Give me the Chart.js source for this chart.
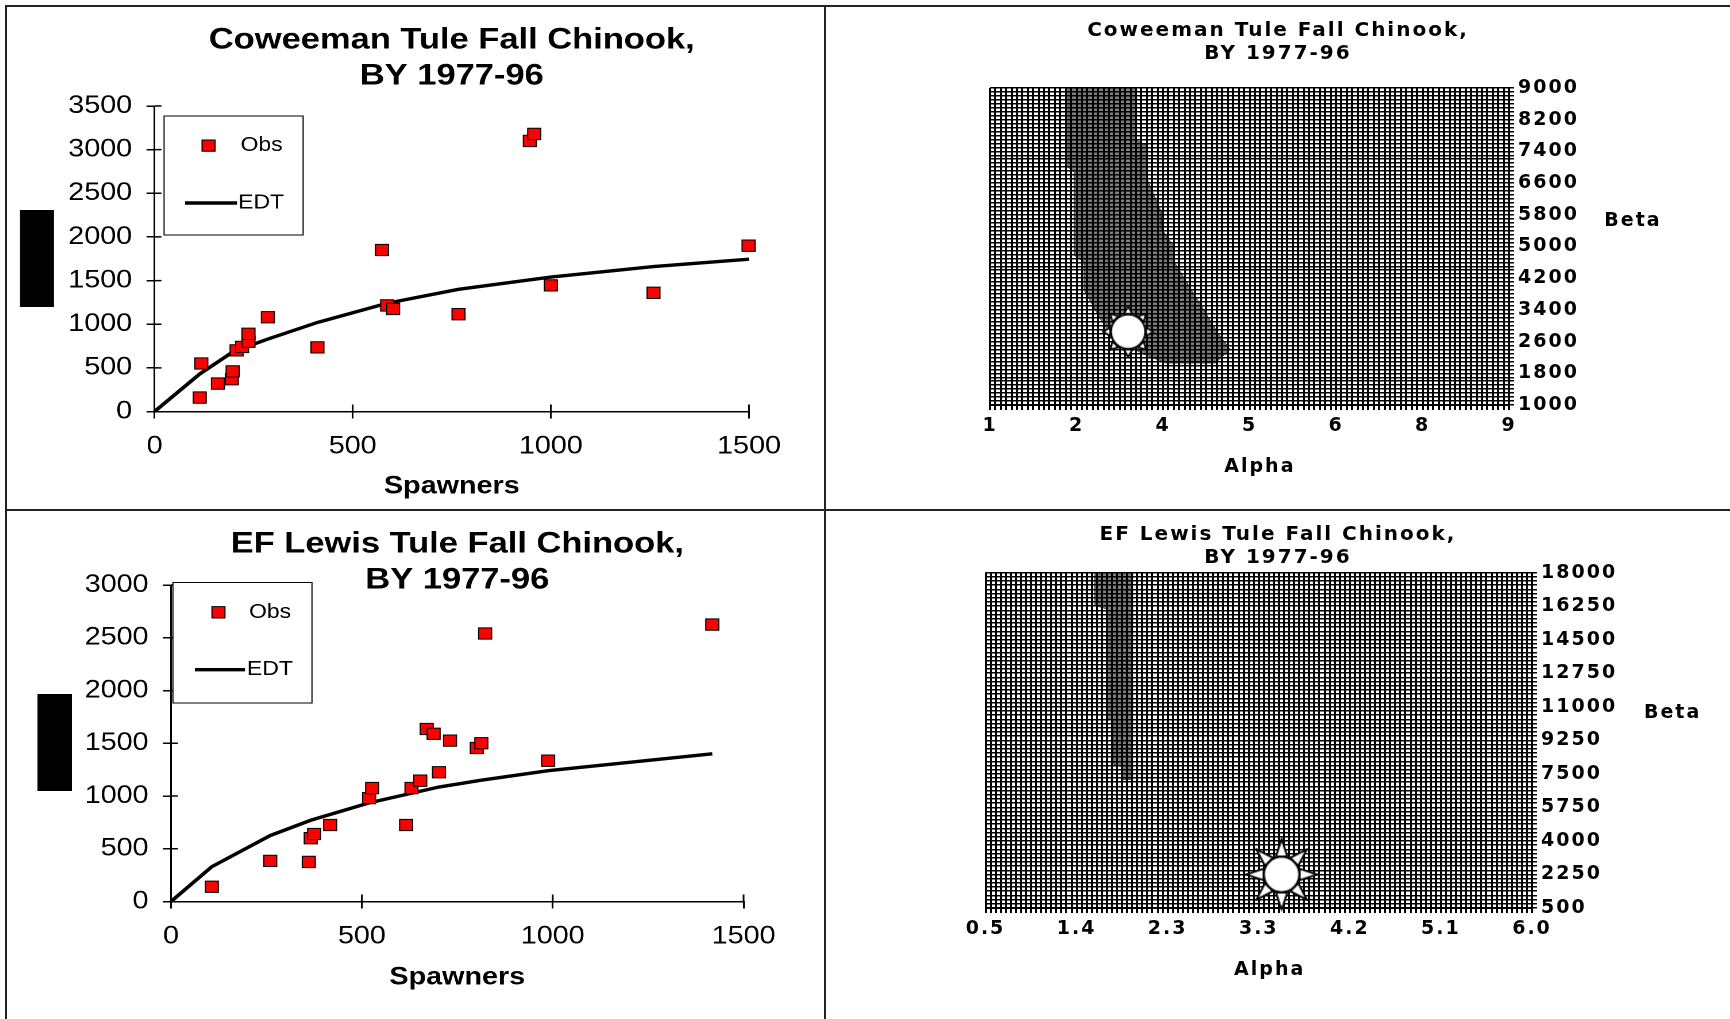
<!DOCTYPE html>
<html lang="en">
<head>
<meta charset="UTF-8">
<title>Coweeman and EF Lewis Tule Fall Chinook, BY 1977-96</title>
<script src="https://cdn.jsdelivr.net/npm/chart.js"></script>
<style>
  body {
    margin: 0;
    width: 1730px;
    height: 1019px;
    overflow: hidden;
    position: relative;
    background: #fff;
  }
  .rule { position: absolute; background: #222; }
  .panel { position: absolute; transform-origin: 0 0; }
</style>
</head>
<body>

<div class="rule" style="left:5px;top:5px;width:1725px;height:2px"></div>
<div class="rule" style="left:5px;top:5px;width:2px;height:1014px"></div>
<div class="rule" style="left:824px;top:5px;width:2px;height:1014px"></div>
<div class="rule" style="left:5px;top:509px;width:1725px;height:2px"></div>

<div class="panel" style="left:7px;top:7px;width:711px;height:502px;transform:scaleX(1.1491)"><canvas id="cowSR"></canvas></div>
<div class="panel" style="left:826px;top:7px;width:904px;height:502px"><canvas id="cowSurf"></canvas></div>
<div class="panel" style="left:7px;top:511px;width:711px;height:508px;transform:scaleX(1.1491)"><canvas id="efSR"></canvas></div>
<div class="panel" style="left:826px;top:511px;width:904px;height:508px"><canvas id="efSurf"></canvas></div>

<script>
// ---- Coweeman spawner / recruit ----
const cowSpawners = [114, 118, 160, 195, 197, 207, 221, 237, 237, 286, 411, 574, 587, 602, 767, 947, 958, 1000, 1259, 1499];
const cowRecruits = [160, 550, 320, 370, 460, 700, 740, 800, 890, 1080, 735, 1850, 1215, 1175, 1115, 3100, 3180, 1445, 1360, 1900];
const cowEdtSpawners = [0, 114, 200, 286, 411, 587, 767, 1000, 1259, 1500];
const cowEdtRecruits = [0, 430, 690, 830, 1020, 1240, 1400, 1540, 1660, 1745];
const cowRecruitTicks = [0, 500, 1000, 1500, 2000, 2500, 3000, 3500];

// ---- EF Lewis spawner / recruit ----
const efSpawners = [107, 260, 361, 366, 375, 417, 519, 527, 616, 630, 653, 670, 688, 702, 731, 801, 813, 823, 988, 1418];
const efRecruits = [140, 385, 375, 600, 640, 725, 980, 1075, 725, 1075, 1145, 1635, 1590, 1225, 1525, 1455, 1500, 2540, 1335, 2625];
const efEdtSpawners = [0, 107, 260, 366, 519, 702, 813, 988, 1418];
const efEdtRecruits = [0, 330, 625, 770, 935, 1085, 1150, 1240, 1400];
const efRecruitTicks = [0, 500, 1000, 1500, 2000, 2500, 3000];

const spawnerTicks = [0, 500, 1000, 1500];

// ---- Coweeman alpha / beta surface ----
const cowAlphaLabels = ['1', '2', '4', '5', '6', '8', '9'];
const cowBetaLabels = ['1000', '1800', '2600', '3400', '4200', '5000', '5800', '6600', '7400', '8200', '9000'];
const cowShadeAlpha = [2.20, 3.25, 3.25, 3.42, 3.42, 3.64, 3.64, 3.82, 3.84, 4.51, 4.70, 4.47, 3.72, 3.33, 2.85, 2.70, 2.45, 2.45, 2.30, 2.30, 2.20, 2.20];
const cowShadeBeta = [9000, 9000, 7680, 7550, 6700, 5870, 5450, 5030, 4610, 2820, 2400, 2060, 2060, 2310, 2800, 3180, 3900, 4610, 4780, 6880, 7000, 9000];
const cowBestAlpha = [3.13];
const cowBestBeta = [2850];

// ---- EF Lewis alpha / beta surface ----
const efAlphaLabels = ['0.5', '1.4', '2.3', '3.3', '4.2', '5.1', '6.0'];
const efBetaLabels = ['500', '2250', '4000', '5750', '7500', '9250', '11000', '12750', '14500', '16250', '18000'];
const efShadeAlpha = [1.60, 1.98, 1.98, 1.87, 1.87, 1.79, 1.79, 1.72, 1.72, 1.60, 1.60];
const efShadeBeta = [18000, 18000, 7200, 7200, 7900, 8000, 10300, 10400, 16100, 16300, 18000];
const efBestAlpha = [3.48];
const efBestBeta = [2250];

const FONT = "'Liberation Sans', Arial, sans-serif";
const WIDE = "'DejaVu Sans', Verdana, sans-serif";
Chart.defaults.font.family = FONT;
Chart.defaults.color = '#000';

const pairs = (xs, ys) => xs.map((x, i) => ({ x: x, y: ys[i] }));

// black bar standing where the y title was
const yBar = {
  id: 'yBar',
  beforeDraw(chart, args, o) {
    if (!o.w) return;
    chart.ctx.save();
    chart.ctx.fillStyle = '#000';
    chart.ctx.fillRect(o.x, o.y, o.w, o.h);
    chart.ctx.restore();
  }
};

// tick marks crossing into the plot
const innerTicks = {
  id: 'innerTicks',
  afterDraw(chart, args, o) {
    if (!o.len) return;
    const { ctx } = chart;
    const xs = chart.scales.x, ys = chart.scales.y;
    ctx.save();
    ctx.strokeStyle = '#000';
    ctx.lineWidth = 1.5;
    ctx.beginPath();
    xs.ticks.forEach((t, i) => {
      if (i === 0) return;
      const px = xs.getPixelForTick(i);
      ctx.moveTo(px, xs.top);
      ctx.lineTo(px, xs.top - o.len);
    });
    ys.ticks.forEach((t, i) => {
      if (i === 0) return;
      const py = ys.getPixelForTick(i);
      ctx.moveTo(ys.right, py);
      ctx.lineTo(ys.right + o.lenX, py);
    });
    ctx.stroke();
    ctx.restore();
  }
};

// boxed legend inside the plot
const boxLegend = {
  id: 'boxLegend',
  afterDraw(chart, args, o) {
    if (!o.box) return;
    const { ctx, chartArea: a } = chart;
    const [bx, by, bw, bh] = o.box;
    ctx.save();
    ctx.fillStyle = '#fff';
    ctx.fillRect(a.left + bx, a.top + by, bw, bh);
    ctx.strokeStyle = '#000';
    ctx.lineWidth = 1;
    ctx.strokeRect(a.left + bx, a.top + by, bw, bh);
    ctx.font = '20px ' + FONT;
    ctx.textBaseline = 'middle';
    o.rows.forEach((r, i) => {
      const ds = chart.data.datasets[i];
      const x = a.left + r.x, y = a.top + r.y;
      if (ds.type === 'line') {
        ctx.strokeStyle = ds.borderColor;
        ctx.lineWidth = ds.borderWidth;
        ctx.beginPath();
        ctx.moveTo(x - r.half, y);
        ctx.lineTo(x + r.half, y);
        ctx.stroke();
      } else {
        ctx.fillStyle = ds.backgroundColor;
        ctx.strokeStyle = ds.borderColor;
        ctx.lineWidth = ds.borderWidth;
        Chart.helpers.drawPoint(ctx, { pointStyle: ds.pointStyle, radius: ds.pointRadius, borderWidth: ds.borderWidth }, x, y);
      }
      ctx.fillStyle = '#000';
      ctx.fillText(ds.label, a.left + r.tx, y);
    });
    ctx.restore();
  }
};

// wide lettering, horizontal axis names and the best-fit marker on top of the grid
const surfaceExtras = {
  id: 'surfaceExtras',
  beforeDraw(chart, args, o) {
    if (o.spacing) chart.ctx.letterSpacing = o.spacing;
  },
  afterDraw(chart, args, o) {
    if (!o.alpha) return;
    const { ctx, chartArea: a } = chart;
    chart.getDatasetMeta(o.topIndex).data.forEach(p => p.draw(ctx, a));
    ctx.save();
    ctx.font = 'bold 19px ' + WIDE;
    ctx.fillStyle = '#000';
    ctx.textAlign = 'center';
    ctx.textBaseline = 'middle';
    ctx.fillText(o.alpha, a.left + a.width * 0.52, a.bottom + 62.5);
    ctx.fillText(o.beta, a.right + o.betaDx, a.top + a.height * 0.42);
    ctx.restore();
  }
};

function sunImage(rc, ro, halfBase) {
  const size = Math.ceil(2 * ro + 6);
  const c = document.createElement('canvas');
  c.width = size;
  c.height = size;
  const g = c.getContext('2d');
  g.translate(size / 2, size / 2);
  g.lineWidth = 1.6;
  g.strokeStyle = '#000';
  g.fillStyle = '#fff';
  const rb = rc + 1.5;
  for (let k = 0; k < 8; k++) {
    const t = k * Math.PI / 4 - Math.PI / 2;
    const half = halfBase / rb;
    g.beginPath();
    g.moveTo(ro * Math.cos(t), ro * Math.sin(t));
    g.lineTo(rb * Math.cos(t + half), rb * Math.sin(t + half));
    g.lineTo(rb * Math.cos(t - half), rb * Math.sin(t - half));
    g.closePath();
    g.fill();
    g.stroke();
  }
  g.beginPath();
  g.arc(0, 0, rc, 0, Math.PI * 2);
  g.fill();
  g.stroke();
  return c;
}

function gridTicks(min, max, n) {
  const out = [];
  for (let i = 0; i <= n; i++) out.push({ value: min + (max - min) * i / n });
  return out;
}

function srChart(id, c) {
  return new Chart(document.getElementById(id), {
    type: 'scatter',
    data: {
      datasets: [
        {
          label: 'Obs',
          data: pairs(c.sp, c.rec),
          pointStyle: 'rect',
          pointRadius: 8,
          backgroundColor: '#ff0000',
          borderColor: '#000',
          borderWidth: 1,
          clip: false
        },
        {
          type: 'line',
          label: 'EDT',
          data: pairs(c.edtSp, c.edtRec),
          borderColor: '#000',
          borderWidth: 3.4,
          pointRadius: 0,
          tension: 0,
          fill: false,
          clip: false
        }
      ]
    },
    options: {
      responsive: true,
      maintainAspectRatio: false,
      devicePixelRatio: 2,
      animation: false,
      events: [],
      layout: { padding: { left: 0, right: c.padRight, top: 0, bottom: 0 } },
      scales: {
        x: {
          type: 'linear',
          min: spawnerTicks[0],
          max: spawnerTicks[spawnerTicks.length - 1],
          afterBuildTicks: s => { s.ticks = spawnerTicks.map(v => ({ value: v })); },
          afterFit: s => { s.height = c.xAxisH; },
          grid: { drawOnChartArea: false, color: '#000', lineWidth: 1.5, tickLength: 7 },
          border: { color: '#000', width: 1.5 },
          ticks: { font: { size: 25 }, padding: 13, maxRotation: 0, autoSkip: false, callback: v => String(v) },
          title: { display: true, text: 'Spawners', font: { size: 25, weight: 'bold' }, padding: { top: 0, bottom: c.xTitleBottom } }
        },
        y: {
          type: 'linear',
          min: c.yTicks[0],
          max: c.yTicks[c.yTicks.length - 1],
          afterBuildTicks: s => { s.ticks = c.yTicks.map(v => ({ value: v })); },
          afterFit: s => { s.width = c.yAxisW; },
          grid: { drawOnChartArea: false, color: '#000', lineWidth: 1.5, tickLength: 7 },
          border: { color: '#000', width: 1.5 },
          ticks: { font: { size: 25 }, padding: 12.5, autoSkip: false, callback: v => String(v) }
        }
      },
      plugins: {
        legend: { display: false },
        tooltip: { enabled: false },
        title: {
          display: true,
          fullSize: false,
          text: c.title,
          color: '#000',
          font: { size: 30, weight: 'bold', lineHeight: 1.2 },
          padding: { top: c.titleTop, bottom: c.titleBottom }
        },
        yBar: c.bar,
        innerTicks: { len: 7, lenX: 6 },
        boxLegend: c.legend
      }
    },
    plugins: [yBar, innerTicks, boxLegend]
  });
}

function surfaceChart(id, c) {
  const aMin = parseFloat(c.alphaLabels[0]);
  const aMax = parseFloat(c.alphaLabels[c.alphaLabels.length - 1]);
  const bMin = parseFloat(c.betaLabels[0]);
  const bMax = parseFloat(c.betaLabels[c.betaLabels.length - 1]);
  const nA = (c.alphaLabels.length - 1) * c.alphaSub;
  const nB = (c.betaLabels.length - 1) * c.betaSub;
  const tickFont = { family: WIDE, size: 19, weight: 'bold' };
  return new Chart(document.getElementById(id), {
    type: 'scatter',
    data: {
      datasets: [
        {
          type: 'line',
          label: 'region',
          xAxisID: 'x',
          yAxisID: 'y',
          data: pairs(c.shadeA, c.shadeB),
          fill: 'shape',
          backgroundColor: '#808080',
          borderColor: '#4a4a4a',
          borderWidth: 1,
          pointRadius: 0,
          tension: 0
        },
        {
          label: 'best',
          xAxisID: 'x',
          yAxisID: 'y',
          data: pairs(c.bestA, c.bestB),
          pointStyle: c.sun,
          pointRadius: 5
        }
      ]
    },
    options: {
      responsive: true,
      maintainAspectRatio: false,
      devicePixelRatio: 1,
      animation: false,
      events: [],
      scales: {
        // empty left gutter so the full-width title stays centred on the panel
        gutter: {
          type: 'linear',
          axis: 'y',
          position: 'left',
          display: true,
          min: 0,
          max: 1,
          afterFit: s => { s.width = c.padLeft; },
          grid: { display: false },
          border: { display: false },
          ticks: { display: false }
        },
        x: {
          type: 'linear',
          min: aMin,
          max: aMax,
          afterBuildTicks: s => { s.ticks = gridTicks(aMin, aMax, nA); },
          afterFit: s => { s.height = c.xAxisH; },
          grid: { z: 1, color: '#000', lineWidth: 2, tickLength: 5 },
          border: { z: 2, color: '#000', width: 2 },
          ticks: {
            autoSkip: false, maxRotation: 0, padding: 5, font: tickFont,
            callback: (v, i) => (i % c.alphaSub === 0 ? c.alphaLabels[i / c.alphaSub] : '')
          }
        },
        y: {
          type: 'linear',
          position: 'right',
          min: bMin,
          max: bMax,
          afterBuildTicks: s => { s.ticks = gridTicks(bMin, bMax, nB); },
          afterFit: s => { s.width = c.yAxisW; },
          grid: { z: 1, color: '#000', lineWidth: 1.5, tickLength: 5 },
          border: { z: 2, color: '#000', width: 2 },
          ticks: {
            autoSkip: false, padding: 4, font: tickFont,
            callback: (v, i) => (i % c.betaSub === 0 ? c.betaLabels[i / c.betaSub] : '')
          }
        }
      },
      plugins: {
        legend: { display: false },
        tooltip: { enabled: false },
        title: {
          display: true,
          text: c.title,
          color: '#000',
          font: { family: WIDE, size: 20, weight: 'bold', lineHeight: 1.15 },
          padding: { top: c.titleTop, bottom: c.titleBottom }
        },
        surfaceExtras: { alpha: 'Alpha', beta: 'Beta', betaDx: c.betaDx, topIndex: 1, spacing: '2px' }
      }
    },
    plugins: [surfaceExtras]
  });
}

srChart('cowSR', {
  title: ['Coweeman Tule Fall Chinook,', 'BY 1977-96'],
  sp: cowSpawners, rec: cowRecruits,
  edtSp: cowEdtSpawners, edtRec: cowEdtRecruits,
  yTicks: cowRecruitTicks,
  padRight: 65.3, yAxisW: 128.4, xAxisH: 97.5, xTitleBottom: 7.5,
  titleTop: 15, titleBottom: 12,
  bar: { x: 11.3, y: 203, w: 29.6, h: 97 },
  legend: {
    box: [8.3, 10, 121, 119],
    rows: [{ x: 47, y: 39.6, tx: 74.8 }, { x: 49.2, y: 97, tx: 72.7, half: 22.6 }]
  }
});

srChart('efSR', {
  title: ['EF Lewis Tule Fall Chinook,', 'BY 1977-96'],
  sp: efSpawners, rec: efRecruits,
  edtSp: efEdtSpawners, edtRec: efEdtRecruits,
  yTicks: efRecruitTicks,
  padRight: 70, yAxisW: 142.7, xAxisH: 117.5, xTitleBottom: 26.5,
  titleTop: 15, titleBottom: -13,
  bar: { x: 26.5, y: 183, w: 30, h: 97 },
  legend: {
    box: [1.7, -2.5, 121, 120.5],
    rows: [{ x: 41.3, y: 27.3, tx: 67.9 }, { x: 42.6, y: 84.7, tx: 66.1, half: 21.8 }]
  }
});

surfaceChart('cowSurf', {
  title: ['Coweeman Tule Fall Chinook,', 'BY 1977-96'],
  alphaLabels: cowAlphaLabels, betaLabels: cowBetaLabels,
  alphaSub: 16, betaSub: 8,
  shadeA: cowShadeAlpha, shadeB: cowShadeBeta,
  bestA: cowBestAlpha, bestB: cowBestBeta,
  sun: sunImage(17, 25, 4),
  padLeft: 164, yAxisW: 221, xAxisH: 104,
  titleTop: 12.5, titleBottom: 22.4, betaDx: 124
});

surfaceChart('efSurf', {
  title: ['EF Lewis Tule Fall Chinook,', 'BY 1977-96'],
  alphaLabels: efAlphaLabels, betaLabels: efBetaLabels,
  alphaSub: 18, betaSub: 8,
  shadeA: efShadeAlpha, shadeB: efShadeBeta,
  bestA: efBestAlpha, bestB: efBestBeta,
  sun: sunImage(17.5, 35, 5.5),
  padLeft: 159.5, yAxisW: 198, xAxisH: 111,
  titleTop: 12.5, titleBottom: 3.1, betaDx: 140.6
});
</script>
</body>
</html>
